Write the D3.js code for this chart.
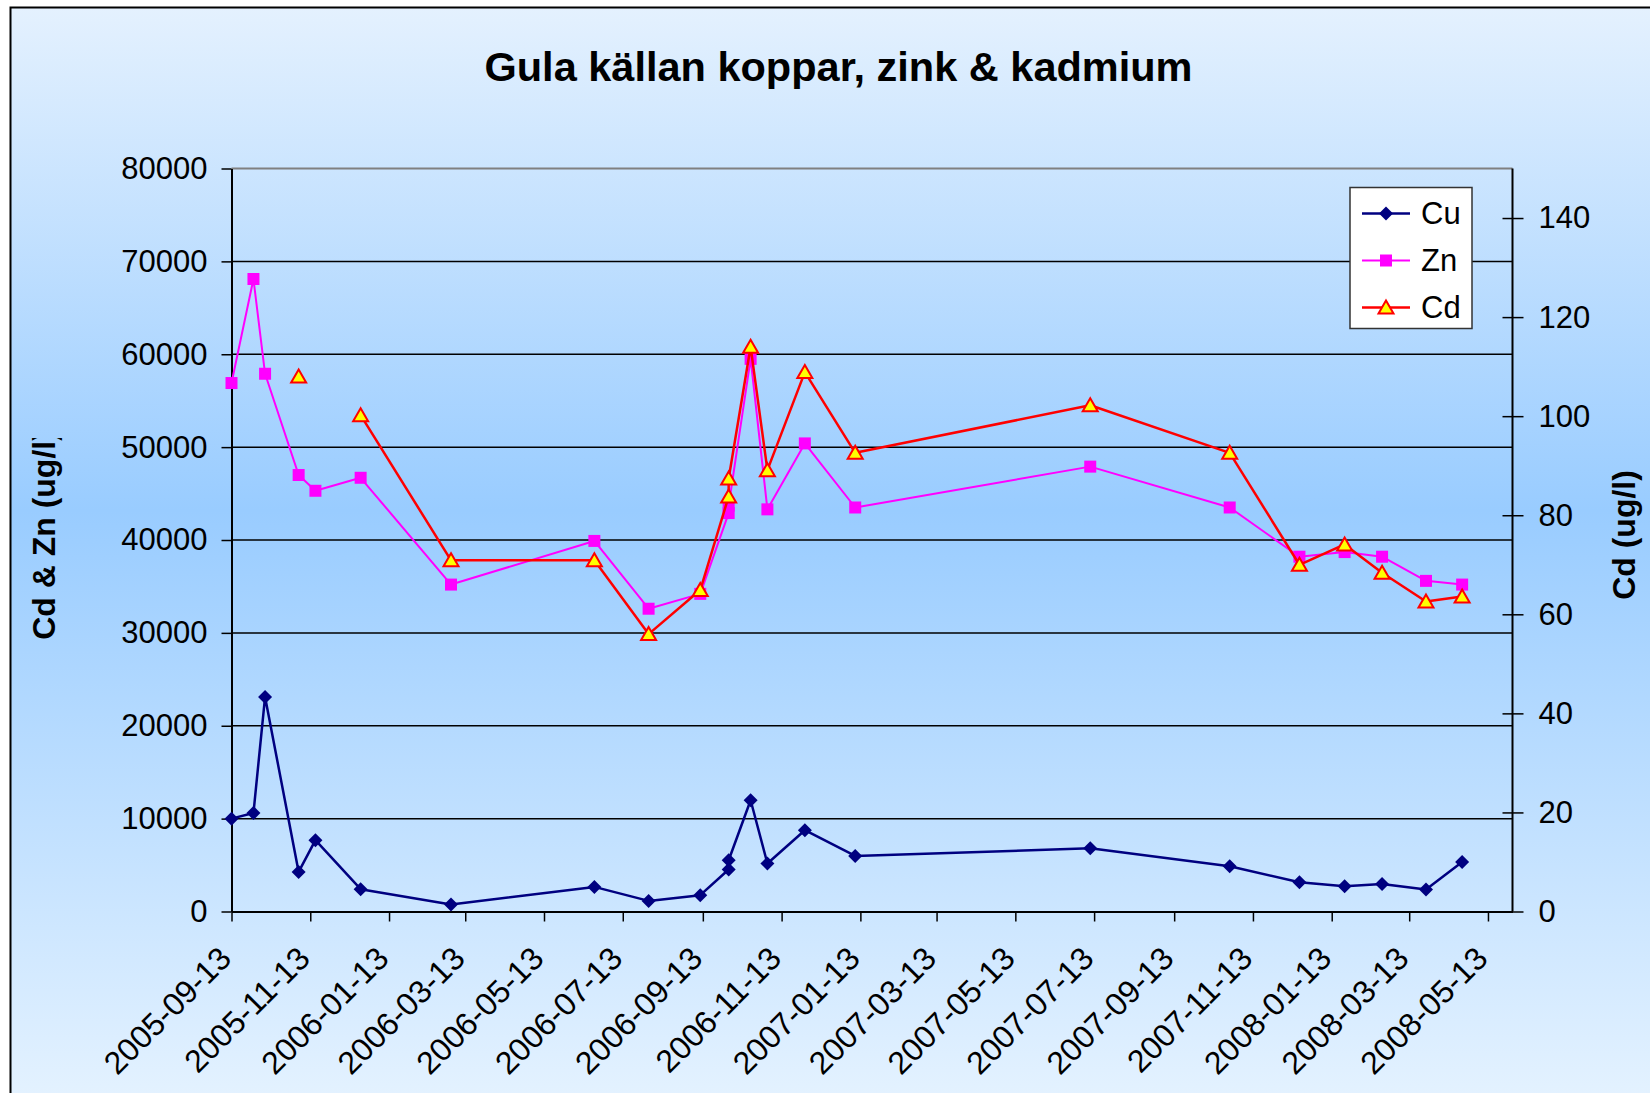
<!DOCTYPE html>
<html>
<head>
<meta charset="utf-8">
<script src="https://cdn.jsdelivr.net/npm/d3@7"></script>
<style>
    body { margin: 0; background: #fff; }
    svg { display: block; font-family: "Liberation Sans", Arial, sans-serif; }
</style>
</head>
<body>
<svg id="chart" width="1650" height="1093"></svg>
<script>
// sample dates (two samples on 2006-10-03)
const sampleDates = [
    "2005-09-13", "2005-09-30", "2005-10-09", "2005-11-04", "2005-11-17", "2005-12-22",
    "2006-03-02", "2006-06-21", "2006-08-02", "2006-09-11", "2006-10-03", "2006-10-03",
    "2006-10-20", "2006-11-02", "2006-12-01", "2007-01-09", "2007-07-10", "2007-10-26",
    "2007-12-19", "2008-01-23", "2008-02-21", "2008-03-26", "2008-04-23"
];
const cuValues = [
    10000, 10600, 23100, 4260, 7680, 2400,
    750, 2650, 1140, 1760, 4520, 5520,
    11980, 5170, 8750, 5980, 6800, 4870,
    3150, 2720, 2950, 2370, 5330
];
const znValues = [
    56900, 68100, 57900, 47000, 45300, 46700,
    35200, 39900, 32600, 34200, 42900, 43700,
    59500, 43300, 50400, 43500, 47900, 43500,
    38200, 38700, 38200, 35600, 35200
];
const cdValues = [
    null, null, null, 108, null, 100.2,
    70.9, 70.9, 56.0, 64.9, 83.8, 87.4,
    114.0, 89.1, 108.9, 92.6, 102.2, 92.6,
    70.0, 74.1, 68.4, 62.6, 63.6
];
const dateTickLabels = [
    "2005-09-13", "2005-11-13", "2006-01-13", "2006-03-13", "2006-05-13", "2006-07-13",
    "2006-09-13", "2006-11-13", "2007-01-13", "2007-03-13", "2007-05-13", "2007-07-13",
    "2007-09-13", "2007-11-13", "2008-01-13", "2008-03-13", "2008-05-13"
];
const leftTicks = [0, 10000, 20000, 30000, 40000, 50000, 60000, 70000, 80000];
const rightTicks = [0, 20, 40, 60, 80, 100, 120, 140];
const seriesNames = ["Cu", "Zn", "Cd"];

var W = 1650, H = 1093;
var plot = {left: 231.5, right: 1512.5, top: 168.5, bottom: 911.5};
var parseDate = d3.utcParse("%Y-%m-%d");

var svg = d3.select("#chart");
var defs = svg.append("defs");

var bg = defs.append("linearGradient").attr("id", "bg")
    .attr("x1", 0).attr("y1", 0).attr("x2", 0).attr("y2", 1);
bg.append("stop").attr("offset", "0%").attr("stop-color", "#e4f1fe");
bg.append("stop").attr("offset", "46%").attr("stop-color", "#99ccff");
bg.append("stop").attr("offset", "100%").attr("stop-color", "#e4f2ff");

// chart area (extends past the picture on the right and bottom)
svg.append("rect")
    .attr("x", 10.5).attr("y", 7.5)
    .attr("width", W).attr("height", H)
    .attr("fill", "url(#bg)")
    .attr("stroke", "#000")
    .attr("stroke-width", 2);

var x = d3.scaleUtc()
    .domain([parseDate("2005-09-13"), parseDate("2008-06-01")])
    .range([plot.left, plot.right]);
var yLeft = d3.scaleLinear().domain([0, 80000]).range([plot.bottom, plot.top]);
var yRight = d3.scaleLinear().domain([0, 150]).range([plot.bottom, plot.top]);

// title
svg.append("text")
    .attr("x", 838.5).attr("y", 81)
    .attr("text-anchor", "middle")
    .attr("font-weight", "bold")
    .attr("font-size", 41.5)
    .text("Gula källan koppar, zink & kadmium");

// gridlines
svg.append("g").selectAll("line")
    .data(leftTicks.filter(d => d > 0 && d < 80000))
    .enter().append("line")
    .attr("x1", plot.left).attr("x2", plot.right)
    .attr("y1", d => yLeft(d)).attr("y2", d => yLeft(d))
    .attr("stroke", "#000")
    .attr("stroke-width", 1.5);

svg.append("line")
    .attr("x1", plot.left).attr("x2", plot.right)
    .attr("y1", plot.top).attr("y2", plot.top)
    .attr("stroke", "#808080")
    .attr("stroke-width", 2);

function styleAxis(g) {
    g.attr("font-family", null).attr("font-size", 31);
    g.select(".domain").attr("stroke", "#000").attr("stroke-width", 2);
    g.selectAll(".tick line").attr("stroke", "#000").attr("stroke-width", 1.5);
    g.selectAll(".tick text").attr("fill", "#000");
}

// left axis
var leftAxis = svg.append("g")
    .attr("transform", "translate(" + plot.left + ",0)")
    .call(d3.axisLeft(yLeft).tickValues(leftTicks).tickFormat(d3.format("d"))
        .tickSize(10).tickSizeOuter(0).tickPadding(14))
    .call(styleAxis);

// right axis, ticks cross the line
var rightAxis = svg.append("g")
    .attr("transform", "translate(" + plot.right + ",0)")
    .call(d3.axisRight(yRight).tickValues(rightTicks)
        .tickSize(11).tickSizeOuter(0).tickPadding(15))
    .call(styleAxis);
rightAxis.selectAll(".tick line").attr("x1", -10);
rightAxis.select(".domain").attr("d", "M0," + plot.top + "V" + plot.bottom);

// bottom axis
var tickDates = dateTickLabels.map(parseDate);
var bottomAxis = svg.append("g")
    .attr("transform", "translate(0," + plot.bottom + ")")
    .call(d3.axisBottom(x).tickValues(tickDates).tickFormat(d3.utcFormat("%Y-%m-%d"))
        .tickSize(10).tickSizeOuter(0))
    .call(styleAxis);
bottomAxis.selectAll(".tick text")
    .attr("font-size", 32)
    .attr("x", 0).attr("y", 0).attr("dy", 0)
    .attr("text-anchor", "end")
    .attr("transform", "translate(1,49) rotate(-45)");

// axis titles
var clipId = "ytitle-clip";
defs.append("clipPath").attr("id", clipId)
    .append("rect").attr("x", 0).attr("y", 438).attr("width", 120).attr("height", 400);

svg.append("g").attr("clip-path", "url(#" + clipId + ")")
    .append("text")
    .attr("transform", "translate(55,535) rotate(-90)")
    .attr("text-anchor", "middle")
    .attr("font-weight", "bold")
    .attr("font-size", 32)
    .text("Cd & Zn (ug/l)");

svg.append("text")
    .attr("transform", "translate(1635,535) rotate(-90)")
    .attr("text-anchor", "middle")
    .attr("font-weight", "bold")
    .attr("font-size", 32)
    .text("Cd (ug/l)");

// series
var series = [
    {name: "Cu", values: cuValues, y: yLeft, color: "#000080", width: 2.5, marker: "diamond"},
    {name: "Zn", values: znValues, y: yLeft, color: "#ff00ff", width: 2, marker: "square"},
    {name: "Cd", values: cdValues, y: yRight, color: "#ff0000", width: 2.5, marker: "triangle"}
];

var markerPath = {
    diamond: "M0,-7L7,0L0,7L-7,0Z",
    square: "M-6,-6H6V6H-6Z",
    triangle: "M0,-7L7.5,6L-7.5,6Z"
};

function drawMarker(g, s) {
    var m = g.append("path").attr("d", markerPath[s.marker]);
    if (s.marker === "triangle") {
        m.attr("fill", "#ffff00").attr("stroke", "#ff0000").attr("stroke-width", 2)
            .attr("stroke-linejoin", "miter");
    } else {
        m.attr("fill", s.color);
    }
    return m;
}

series.forEach(function (s) {
    var pts = sampleDates.map((d, i) => ({date: parseDate(d), value: s.values[i]}));
    var line = d3.line()
        .defined(d => d.value !== null)
        .x(d => x(d.date))
        .y(d => s.y(d.value));

    var g = svg.append("g").attr("class", "series-" + s.name);
    g.append("path")
        .attr("fill", "none")
        .attr("stroke", s.color)
        .attr("stroke-width", s.width)
        .attr("stroke-linejoin", "round")
        .attr("d", line(pts));

    pts.filter(d => d.value !== null).forEach(function (d) {
        drawMarker(g, s).attr("transform", "translate(" + x(d.date) + "," + s.y(d.value) + ")");
    });
});

// legend
var legend = svg.append("g");
legend.append("rect")
    .attr("x", 1350).attr("y", 187.5)
    .attr("width", 122).attr("height", 141)
    .attr("fill", "#fff")
    .attr("stroke", "#333")
    .attr("stroke-width", 1.5);

var legendY = d3.scalePoint().domain(seriesNames).range([213.5, 307.5]);
series.forEach(function (s) {
    var ly = legendY(s.name);
    legend.append("line")
        .attr("x1", 1362).attr("x2", 1410)
        .attr("y1", ly).attr("y2", ly)
        .attr("stroke", s.color)
        .attr("stroke-width", s.width);
    drawMarker(legend, s).attr("transform", "translate(1386," + ly + ")");
    legend.append("text")
        .attr("x", 1421).attr("y", ly)
        .attr("dy", "0.35em")
        .attr("font-size", 31)
        .text(s.name);
});
</script>
</body>
</html>
